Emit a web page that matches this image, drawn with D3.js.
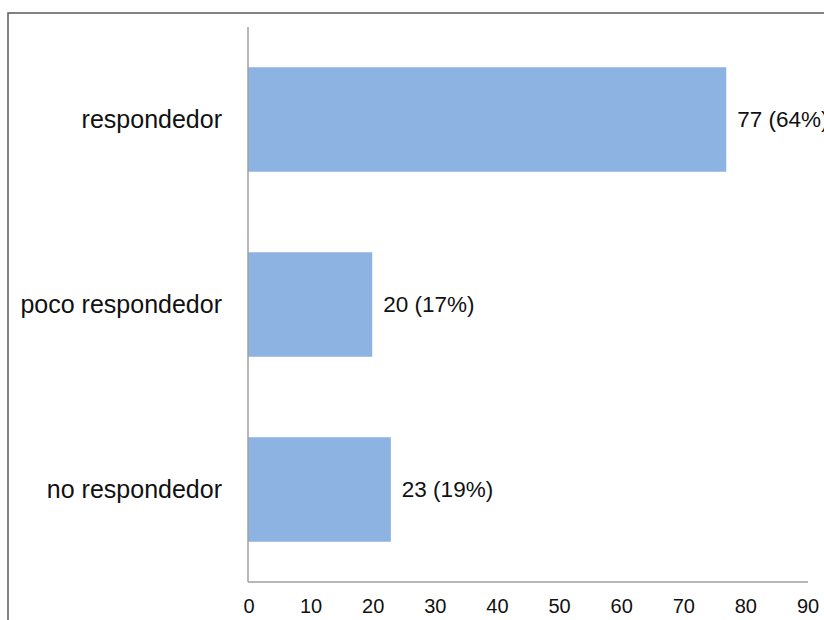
<!DOCTYPE html>
<html>
<head>
<meta charset="utf-8">
<script src="https://cdn.jsdelivr.net/npm/d3@7"></script>
<style>
	body { margin: 0; background: #fff; }
	svg { display: block; font-family: "Liberation Sans", Arial, sans-serif; }
	.frame { fill: none; stroke: #595959; stroke-width: 1.5; }
	.axis-line { stroke: #a0a0a0; stroke-width: 1.5; }
	.bar { fill: #8db3e2; }
	.cat { font-size: 25px; fill: #111; }
	.val { font-size: 22.5px; fill: #111; }
	.tick-label { font-size: 20px; fill: #111; }
</style>
</head>
<body>
<svg class="chart" width="824" height="620"></svg>
<script>
//* data
const categories = ["respondedor", "poco respondedor", "no respondedor"];
const counts = [77, 20, 23];
const labels = ["77 (64%)", "20 (17%)", "23 (19%)"];
const ticks = [0, 10, 20, 30, 40, 50, 60, 70, 80, 90];

const svg = d3.select("svg.chart");

const plotLeft = 248, plotRight = 807, plotTop = 27, plotBottom = 582;

const x = d3.scaleLinear().domain([0, 90]).range([plotLeft, plotRight]);
const y = d3.scaleBand()
	.domain(categories)
	.range([plotTop, plotBottom])
	.paddingInner(0.435)
	.paddingOuter(0.2175);

//* outer frame (cut off on the right and bottom)
svg.append("rect")
	.attr("class", "frame")
	.attr("x", 8)
	.attr("y", 13)
	.attr("width", 900)
	.attr("height", 700);

//* bars
svg.selectAll("rect.bar")
	.data(counts)
	.enter()
	.append("rect")
	.attr("class", "bar")
	.attr("x", x(0))
	.attr("y", (_, i) => y(categories[i]))
	.attr("width", (d) => x(d) - x(0))
	.attr("height", y.bandwidth());

//* axis lines
svg.append("line")
	.attr("class", "axis-line")
	.attr("x1", x(0)).attr("x2", x(0))
	.attr("y1", plotTop).attr("y2", plotBottom);
svg.append("line")
	.attr("class", "axis-line")
	.attr("x1", x(0)).attr("x2", x(90) + 1)
	.attr("y1", plotBottom).attr("y2", plotBottom);

//* x tick labels
svg.selectAll("text.tick-label")
	.data(ticks)
	.enter()
	.append("text")
	.attr("class", "tick-label")
	.attr("x", (d) => x(d) + 1)
	.attr("y", 613)
	.attr("text-anchor", "middle")
	.text((d) => d);

//* category labels
svg.selectAll("text.cat")
	.data(categories)
	.enter()
	.append("text")
	.attr("class", "cat")
	.attr("x", plotLeft - 26)
	.attr("y", (d) => y(d) + y.bandwidth() / 2)
	.attr("dy", "0.35em")
	.attr("text-anchor", "end")
	.text((d) => d);

//* value labels (the last one runs off the right edge, as in the original)
svg.selectAll("text.val")
	.data(counts)
	.enter()
	.append("text")
	.attr("class", "val")
	.attr("x", (d) => x(d) + 11)
	.attr("y", (_, i) => y(categories[i]) + y.bandwidth() / 2)
	.attr("dy", "0.35em")
	.text((_, i) => labels[i]);
</script>
</body>
</html>
